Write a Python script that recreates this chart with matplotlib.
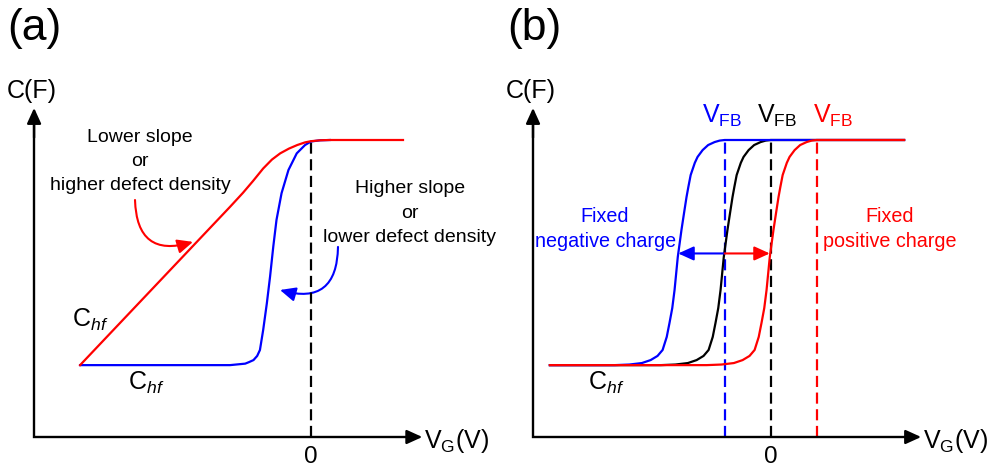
import matplotlib
matplotlib.use("Agg")
import matplotlib.pyplot as plt
from matplotlib.patches import FancyArrowPatch

plt.rcParams["font.family"] = "Liberation Sans"
plt.rcParams["mathtext.fontset"] = "custom"
plt.rcParams["mathtext.rm"] = "Liberation Sans"
plt.rcParams["mathtext.it"] = "Liberation Sans:italic"
plt.rcParams["mathtext.bf"] = "Liberation Sans:bold"

RED = "#ff0000"
BLUE = "#0000ff"

# ---- (a) interface-defect density: gate voltage (V) vs normalised capacitance
a_high_dit_v = [-5.02, -1.76, -1.48, -1.26, -1.04, -0.85, -0.67, -0.48, -0.30,
                -0.13, 0.0, 0.20, 0.41, 2.0]
a_high_dit_c = [0.242, 0.775, 0.822, 0.862, 0.904, 0.934, 0.955, 0.971, 0.983,
                0.992, 0.996, 0.999, 1.0, 1.0]
a_low_dit_v = [-5.02, -1.76, -1.43, -1.35, -1.25, -1.17, -1.11, -1.04, -0.96,
               -0.89, -0.82, -0.75, -0.64, -0.49, -0.31, -0.13, 0.0, 0.20, 0.41]
a_low_dit_c = [0.242, 0.242, 0.247, 0.252, 0.259, 0.273, 0.293, 0.360, 0.450,
               0.540, 0.641, 0.731, 0.821, 0.899, 0.955, 0.983, 0.995, 0.999, 1.0]

# ---- (b) fixed oxide charge: C-V curve around its flat-band voltage
b_offset_v = [-2.39, -2.07, -1.80, -1.61, -1.46, -1.35, -1.26, -1.20, -1.14,
              -1.09, -1.02, -0.94, -0.88, -0.83, -0.79, -0.74, -0.65, -0.59,
              -0.48, -0.36, -0.22, -0.11, 0.0]
b_c = [0.242, 0.244, 0.249, 0.259, 0.273, 0.293, 0.337, 0.384, 0.434,
       0.495, 0.606, 0.697, 0.758, 0.808, 0.842, 0.882, 0.923, 0.943,
       0.966, 0.983, 0.993, 0.998, 1.0]
b_sweep = [-4.80, 2.90]          # gate-voltage sweep range
b_vfb = [0.0, -1.0, 1.0]          # reference, negative charge, positive charge
b_colors = ["black", BLUE, RED]
C_HF = 0.242
C_OX = 1.0

fig = plt.figure(figsize=(9.98, 4.68), dpi=100)


def make_panel(left_px, zero_px):
    ax = fig.add_axes([left_px / 998, 0, 499 / 998, 1])
    ax.set_xlim((left_px - zero_px) / 46, (left_px + 499 - zero_px) / 46)
    ax.set_ylim(-31 / 297, 437 / 297)
    ax.axis("off")
    return ax


def head(color, lw=1.5, scale=17):
    return dict(arrowstyle="-|>,head_length=0.55,head_width=0.25",
                mutation_scale=scale, color=color, lw=lw,
                shrinkA=0, shrinkB=0)


def draw_frame(ax, v0, v_tip, c_tip, label_v):
    ax.plot([v0, v0, v_tip - 0.2], [c_tip - 0.05, 0, 0], color="black",
            lw=1.7, solid_joinstyle="miter", solid_capstyle="butt", zorder=5)
    ax.annotate("", xy=(v_tip, 0), xytext=(v_tip - 0.3, 0),
                arrowprops=head("black", 1.7))
    ax.annotate("", xy=(v0, c_tip), xytext=(v0, c_tip - 0.1),
                arrowprops=head("black", 1.7))
    ax.text(label_v, -0.0375, r"V$_{\mathrm{G}}$(V)", fontsize=18,
            ha="left", va="baseline")
    ax.text(0, -0.0875, "0", fontsize=17.5, ha="center", va="baseline")
    ax.text(v0 - 0.59, 1.141, "C(F)", fontsize=18, ha="left", va="baseline")


ax_a = make_panel(0, 311)
ax_b = make_panel(499, 770.7)

# ---------------- panel (a)
draw_frame(ax_a, -6.02, 2.42, 1.108, 2.46)
ax_a.plot([0, 0], [0, C_OX], color="black", lw=1.6, ls=(0, (5, 2.5)), zorder=2)
ax_a.plot(a_low_dit_v, a_low_dit_c, color=BLUE, lw=1.6, zorder=3)
ax_a.plot(a_high_dit_v, a_high_dit_c, color=RED, lw=1.6, zorder=4)

for txt, c in zip(["Lower slope", "or", "higher defect density"],
                  [0.993, 0.912, 0.832]):
    ax_a.text(-3.72, c, txt, fontsize=14, ha="center", va="baseline")
for txt, c in zip(["Higher slope", "or", "lower defect density"],
                  [0.822, 0.737, 0.657]):
    ax_a.text(2.15, c, txt, fontsize=14, ha="center", va="baseline")

ax_a.add_patch(FancyArrowPatch((-3.826, 0.798), (-2.565, 0.657),
                               connectionstyle="arc3,rad=0.65",
                               **head(RED)))
ax_a.add_patch(FancyArrowPatch((0.587, 0.640), (-0.674, 0.495),
                               connectionstyle="arc3,rad=-0.65",
                               **head(BLUE)))

ax_a.text(-5.20, 0.370, r"C$_{hf}$", fontsize=18, ha="left", va="baseline")
ax_a.text(-3.98, 0.158, r"C$_{hf}$", fontsize=18, ha="left", va="baseline")

# ---------------- panel (b)
draw_frame(ax_b, -5.167, 3.27, 1.108, 3.31)
for vfb, col, z in zip(b_vfb, b_colors, [3, 4, 5]):
    ax_b.plot([vfb, vfb], [0, C_OX], color=col, lw=1.6, ls=(0, (5, 2.5)),
              zorder=2)
    vs = [b_sweep[0]] + [vfb + d for d in b_offset_v] + [b_sweep[1]]
    cs = [C_HF] + b_c + [C_OX]
    ax_b.plot(vs, cs, color=col, lw=1.6, zorder=z)

for vfb, col, lv in zip(b_vfb, b_colors, [-0.30, -1.49, 0.92]):
    ax_b.text(lv, 1.057, r"V$_{\mathrm{FB}}$", fontsize=18, color=col,
              ha="left", va="baseline")

ax_b.annotate("", xy=(-2.01, 0.618), xytext=(-1.0, 0.618),
              arrowprops=head(BLUE))
ax_b.annotate("", xy=(-0.02, 0.618), xytext=(-1.0, 0.618),
              arrowprops=head(RED))

for txt, c in zip(["Fixed", "negative charge"], [0.724, 0.641]):
    ax_b.text(-3.60, c, txt, fontsize=14.2, color=BLUE, ha="center",
              va="baseline")
for txt, c in zip(["Fixed", "positive charge"], [0.724, 0.641]):
    ax_b.text(2.58, c, txt, fontsize=14.2, color=RED, ha="center",
              va="baseline")

ax_b.text(-3.97, 0.158, r"C$_{hf}$", fontsize=18, ha="left", va="baseline")

# panel letters
fig.text(7 / 998, 1 - 40 / 468, "(a)", fontsize=32, ha="left", va="baseline")
fig.text(507 / 998, 1 - 40 / 468, "(b)", fontsize=32, ha="left", va="baseline")

fig.savefig("out.png", dpi=100, facecolor="white")
